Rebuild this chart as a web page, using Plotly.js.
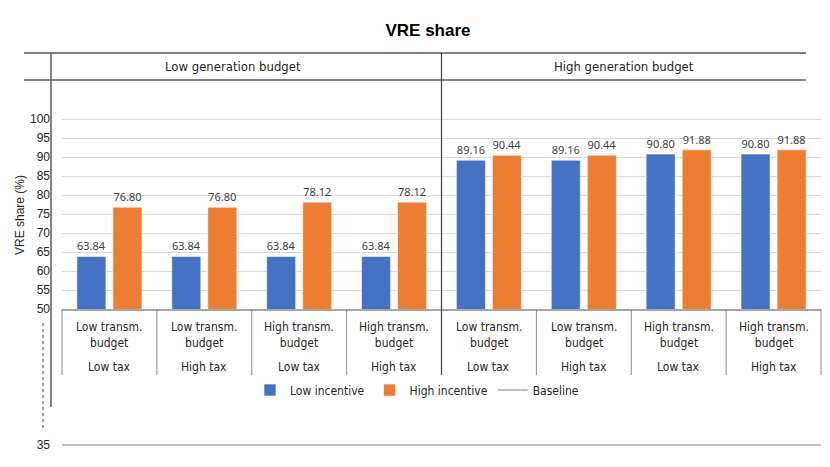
<!DOCTYPE html>
<html>
<head>
<meta charset="utf-8">
<script src="https://cdn.plot.ly/plotly-3.0.1.min.js"></script>
<style>html,body{margin:0;padding:0;background:#fff;}#chart{width:830px;height:467px;}</style>
</head>
<body>
<div id="chart"></div>
<script>
// ---- data ----
const genBudgets = ['Low generation budget', 'High generation budget'];
const transmLabels = ['Low transm.<br>budget', 'Low transm.<br>budget', 'High transm.<br>budget', 'High transm.<br>budget',
                      'Low transm.<br>budget', 'Low transm.<br>budget', 'High transm.<br>budget', 'High transm.<br>budget'];
const taxLabels = ['Low tax', 'High tax', 'Low tax', 'High tax', 'Low tax', 'High tax', 'Low tax', 'High tax'];
const categories = ['LG-LT-LX', 'LG-LT-HX', 'LG-HT-LX', 'LG-HT-HX', 'HG-LT-LX', 'HG-LT-HX', 'HG-HT-LX', 'HG-HT-HX'];
const lowIncentive = [63.84, 63.84, 63.84, 63.84, 89.16, 89.16, 90.80, 90.80];
const highIncentive = [76.80, 76.80, 78.12, 78.12, 90.44, 90.44, 91.88, 91.88];
const baselineValue = 35;
const yTicks = [50, 55, 60, 65, 70, 75, 80, 85, 90, 95, 100];

// ---- geometry helpers (pixel -> paper) ----
const W = 830, H = 467, L = 62, R = 9, T = 80, B = 10;
const PW = W - L - R, PH = H - T - B;
const px = x => (x - L) / PW;
const py = y => (H - B - y) / PH;

const narrow = '"Liberation Sans Narrow", "Arial Narrow", "DejaVu Sans Condensed", sans-serif';
const arial = '"Liberation Sans", Arial, sans-serif';
const txtCol = '#404040';

const traces = [
  {
    type: 'bar', name: 'Low incentive', x: categories, y: lowIncentive,
    marker: {color: '#4472C4', line: {color: 'rgba(255,255,255,0.6)', width: 1}},
    text: lowIncentive.map(v => v.toFixed(2)), textposition: 'outside', cliponaxis: false,
    textfont: {family: '"Noto Sans", "Open Sans", sans-serif', size: 11, color: txtCol},
    hoverinfo: 'skip'
  },
  {
    type: 'bar', name: 'High incentive', x: categories, y: highIncentive,
    marker: {color: '#ED7D31', line: {color: 'rgba(255,255,255,0.6)', width: 1}},
    text: highIncentive.map(v => v.toFixed(2)), textposition: 'outside', cliponaxis: false,
    textfont: {family: '"Noto Sans", "Open Sans", sans-serif', size: 11, color: txtCol},
    hoverinfo: 'skip'
  },
  {
    type: 'scatter', mode: 'lines', name: 'Baseline',
    x: [-0.5, categories.length - 0.5], y: [baselineValue, baselineValue],
    xaxis: 'x2', yaxis: 'y2',
    line: {color: '#bfbfbf', width: 2}, hoverinfo: 'skip'
  }
];

const shapes = [];
const lineDark = '#595959';
// header lines
shapes.push({type: 'line', xref: 'paper', yref: 'paper', x0: px(24), x1: px(806), y0: py(53), y1: py(53), line: {color: '#7f7f7f', width: 2}});
shapes.push({type: 'line', xref: 'paper', yref: 'paper', x0: px(24), x1: px(806), y0: py(80), y1: py(80), line: {color: '#595959', width: 1.5}});
// left vertical line
shapes.push({type: 'line', xref: 'paper', yref: 'paper', x0: px(51), x1: px(51), y0: py(53), y1: py(407), line: {color: lineDark, width: 1.5}});
// dotted axis-break line
shapes.push({type: 'line', xref: 'paper', yref: 'paper', x0: px(43), x1: px(43), y0: py(323), y1: py(428), line: {color: '#7f7f7f', width: 1.5, dash: 'dot'}});
// category dividers
for (let k = 0; k <= categories.length; k++) {
  const xp = k / categories.length;
  if (k === categories.length / 2) {
    shapes.push({type: 'line', xref: 'paper', yref: 'paper', x0: xp, x1: xp, y0: py(53), y1: py(375), line: {color: '#404040', width: 1.2}});
  } else {
    shapes.push({type: 'line', xref: 'paper', yref: 'paper', x0: xp, x1: xp, y0: py(309), y1: py(375), line: {color: '#8c8c8c', width: 1}});
  }
}

const annotations = [];
// header labels
annotations.push({xref: 'paper', yref: 'paper', x: px(232.5), y: py(67), text: genBudgets[0], showarrow: false,
  xanchor: 'center', yanchor: 'middle', font: {family: narrow, size: 13, color: '#262626'}});
annotations.push({xref: 'paper', yref: 'paper', x: px(623.5), y: py(67), text: genBudgets[1], showarrow: false,
  xanchor: 'center', yanchor: 'middle', font: {family: narrow, size: 13, color: '#262626'}});
// category labels
categories.forEach((c, i) => {
  annotations.push({xref: 'x', yref: 'paper', x: c, y: py(335), text: transmLabels[i], showarrow: false,
    xanchor: 'center', yanchor: 'middle', font: {family: narrow, size: 12, color: '#262626'}});
  annotations.push({xref: 'x', yref: 'paper', x: c, y: py(367), text: taxLabels[i], showarrow: false,
    xanchor: 'center', yanchor: 'middle', font: {family: narrow, size: 12, color: '#262626'}});
});
// y axis title
annotations.push({xref: 'paper', yref: 'paper', x: px(20), y: py(215), text: 'VRE share (%)', showarrow: false,
  textangle: -90, xanchor: 'center', yanchor: 'middle', font: {family: arial, size: 12, color: '#262626'}});

const layout = {
  width: W, height: H,
  margin: {l: L, r: R, t: T, b: B, pad: 0},
  paper_bgcolor: '#fff', plot_bgcolor: 'rgba(0,0,0,0)',
  title: {text: 'VRE share', x: 428 / W, xanchor: 'center', y: 1 - 30 / H, yanchor: 'middle', xref: 'container', yref: 'container',
    font: {family: arial, size: 17, color: '#000', weight: 'bold'}},
  barmode: 'group', bargap: 0.24, bargroupgap: 0.194,
  showlegend: true,
  legend: {orientation: 'h', x: px(417), xanchor: 'center', y: py(390), yanchor: 'middle',
    font: {family: narrow, size: 12, color: '#262626'}, itemwidth: 30, tracegroupgap: 0, bgcolor: 'rgba(0,0,0,0)'},
  xaxis: {type: 'category', range: [-0.5, categories.length - 0.5], showticklabels: false, ticks: '',
    showgrid: false, zeroline: false, showline: true, linecolor: '#a6a6a6', linewidth: 1.5, anchor: 'y', fixedrange: true},
  yaxis: {domain: [py(309), 1], range: [50, 50 + (309 - 80) / 3.8], tickvals: yTicks, ticktext: yTicks.map(String),
    showgrid: true, gridcolor: '#d9d9d9', gridwidth: 1, zeroline: false, showline: false, ticks: '',
    ticklabelstandoff: 11, tickfont: {family: arial, size: 12, color: '#262626'}, fixedrange: true},
  xaxis2: {range: [-0.5, categories.length - 0.5], visible: false, anchor: 'y2', overlaying: 'x', fixedrange: true},
  yaxis2: {domain: [py(450), py(440)], range: [34, 36], tickvals: [baselineValue], ticktext: [String(baselineValue)],
    showgrid: false, zeroline: false, showline: false, ticks: '', anchor: 'x2', ticklabelstandoff: 11,
    tickfont: {family: arial, size: 12, color: '#262626'}, fixedrange: true},
  shapes: shapes,
  annotations: annotations
};

Plotly.newPlot('chart', traces, layout, {staticPlot: true, displayModeBar: false});
</script>
</body>
</html>
